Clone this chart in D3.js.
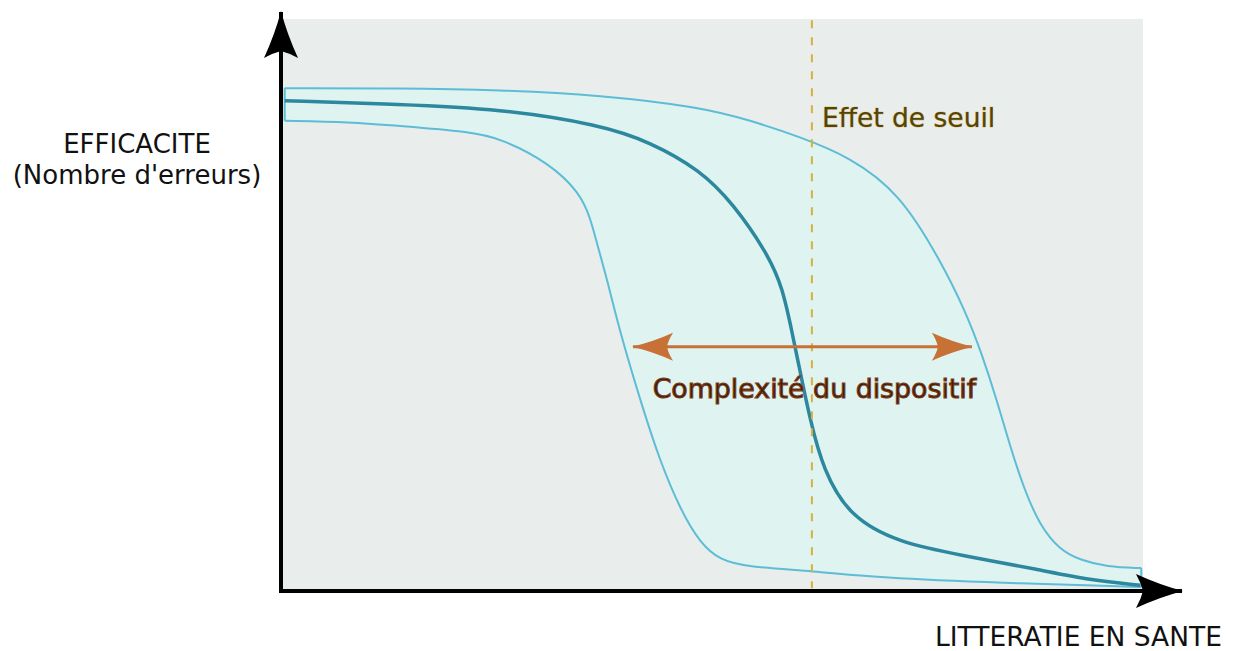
<!DOCTYPE html>
<html>
<head>
<meta charset="utf-8">
<script src="https://cdn.jsdelivr.net/npm/d3@7"></script>
<style>
  body { margin: 0; background: #fff; }
  text { font-family: "DejaVu Sans", sans-serif; }
</style>
</head>
<body>
<div id="chart"></div>
<script>
// literacy (x, 0-100) and error level (y, 0-100)
const upperX = [0.2, 13.6, 25.2, 36.9, 48.5, 54.3, 60.1, 65.9, 71.7, 76.4, 79.3, 81.3, 83.0, 84.5, 86.2, 88.0, 90.3, 92.7, 95.8, 99.8];
const upperY = [87.9, 87.9, 87.6, 86.7, 84.6, 82.3, 79.4, 75.9, 69.6, 57.9, 49.1, 41.3, 33.4, 25.5, 17.7, 11.5, 7.2, 5.4, 4.2, 4.0];

const lowerX = [0.2, 7.8, 13.6, 21.7, 25.2, 31.0, 34.5, 35.7, 36.5, 37.7, 39.2, 41.9, 43.8, 46.2, 48.5, 50.8, 54.0, 61.6, 69.4, 83.4, 99.8];
const lowerY = [82.2, 82.0, 81.3, 80.3, 79.2, 74.8, 69.6, 65.4, 60.8, 54.4, 45.1, 31.6, 22.9, 14.2, 8.4, 5.4, 4.2, 3.5, 2.3, 1.4, 0.7];

const middleX = [0.2, 13.6, 25.2, 36.9, 42.7, 48.5, 52.3, 56.3, 58.1, 59.3, 60.1, 61.3, 62.8, 65.9, 71.7, 78.7, 88.0, 93.8, 99.7];
const middleY = [85.7, 85.1, 84.3, 81.5, 78.5, 73.6, 67.8, 59.1, 53.1, 44.4, 38.6, 29.9, 21.2, 12.9, 8.4, 6.3, 3.7, 1.9, 1.0];

const threshold = 61.5;
const complexity = [40.7, 80.1]; // span of the double arrow
const complexityLevel = 42.7;

const labels = {
  yTitle: ["EFFICACITE", "(Nombre d'erreurs)"],
  xTitle: "LITTERATIE EN SANTE",
  threshold: "Effet de seuil",
  complexity: "Complexité du dispositif"
};

function zip(xs, ys) {
  return xs.map(function(x, i) { return { x: x, y: ys[i] }; });
}

const upper = zip(upperX, upperY);
const lower = zip(lowerX, lowerY);
const middle = zip(middleX, middleY);

const width = 1234;
const height = 651;

const svg = d3.select("#chart")
  .append("svg")
  .attr("width", width)
  .attr("height", height);

const xScale = d3.scaleLinear()
  .domain([0, 100])
  .range([283, 1143]);

const yScale = d3.scaleLinear()
  .domain([0, 100])
  .range([591, 19]);

// b-spline smooths out reading errors in the points
const curve = d3.curveBasis;

// markers for the arrows
const defs = svg.append("defs");

defs.append("marker")
  .attr("id", "axisHead")
  .attr("markerUnits", "userSpaceOnUse")
  .attr("viewBox", "-50 -20 54 40")
  .attr("refX", 0)
  .attr("refY", 0)
  .attr("markerWidth", 54)
  .attr("markerHeight", 40)
  .attr("orient", "auto")
  .append("path")
  .attr("d", "M1,0 Q-22,-6 -46,-17 Q-41,-8 -39,0 Q-41,8 -46,17 Q-22,6 1,0 Z")
  .attr("fill", "#000");

defs.append("marker")
  .attr("id", "orangeHead")
  .attr("markerUnits", "userSpaceOnUse")
  .attr("viewBox", "-44 -16 46 32")
  .attr("refX", 0)
  .attr("refY", 0)
  .attr("markerWidth", 46)
  .attr("markerHeight", 32)
  .attr("orient", "auto-start-reverse")
  .append("path")
  .attr("d", "M1,0 Q-20,-5 -40,-14 Q-35,-6 -34,0 Q-35,6 -40,14 Q-20,5 1,0 Z")
  .attr("fill", "#c87137");

// plot background
svg.append("rect")
  .attr("x", xScale(0) - 2)
  .attr("y", yScale(100))
  .attr("width", xScale(100) - xScale(0) + 2)
  .attr("height", yScale(0) - yScale(100))
  .attr("fill", "#e9edec");

// band between the two light curves
const area = d3.area()
  .x(function(d) { return xScale(d.x); })
  .y0(yScale(0))
  .y1(function(d) { return yScale(d.y); })
  .curve(curve);

svg.append("path")
  .datum(upper)
  .attr("d", area)
  .attr("fill", "#dff3f1");

svg.append("path")
  .datum(lower)
  .attr("d", area)
  .attr("fill", "#e9edec");

const line = d3.line()
  .x(function(d) { return xScale(d.x); })
  .y(function(d) { return yScale(d.y); })
  .curve(curve);

svg.append("path")
  .datum(upper)
  .attr("d", line)
  .attr("fill", "none")
  .attr("stroke", "#5dbcd6")
  .attr("stroke-width", 2);

svg.append("path")
  .datum(lower)
  .attr("d", line)
  .attr("fill", "none")
  .attr("stroke", "#5dbcd6")
  .attr("stroke-width", 2);

// close the band at both ends
[0, 1].forEach(function(i) {
  const u = i === 0 ? upper[0] : upper[upper.length - 1];
  const l = i === 0 ? lower[0] : lower[lower.length - 1];
  svg.append("line")
    .attr("x1", xScale(u.x))
    .attr("y1", yScale(u.y))
    .attr("x2", xScale(l.x))
    .attr("y2", yScale(l.y))
    .attr("stroke", "#5dbcd6")
    .attr("stroke-width", 2);
});

svg.append("path")
  .datum(middle)
  .attr("d", line)
  .attr("fill", "none")
  .attr("stroke", "#2c889e")
  .attr("stroke-width", 3.5);

// threshold
svg.append("line")
  .attr("x1", xScale(threshold))
  .attr("x2", xScale(threshold))
  .attr("y1", yScale(99.8))
  .attr("y2", yScale(0.5))
  .attr("stroke", "#d6b13c")
  .attr("stroke-width", 2)
  .attr("stroke-dasharray", "8,9");

svg.append("text")
  .attr("x", xScale(threshold) + 10)
  .attr("y", 127)
  .attr("font-size", 26.5)
  .attr("fill", "#544408")
  .attr("stroke", "#c9a93a")
  .attr("stroke-width", 0.7)
  .attr("paint-order", "stroke")
  .text(labels.threshold);

// complexity double arrow
svg.append("line")
  .attr("x1", xScale(complexity[0]))
  .attr("x2", xScale(complexity[1]))
  .attr("y1", yScale(complexityLevel))
  .attr("y2", yScale(complexityLevel))
  .attr("stroke", "#c87137")
  .attr("stroke-width", 3)
  .attr("marker-start", "url(#orangeHead)")
  .attr("marker-end", "url(#orangeHead)");

svg.append("text")
  .attr("x", (xScale(complexity[0]) + xScale(complexity[1])) / 2 + 12)
  .attr("y", 398)
  .attr("text-anchor", "middle")
  .attr("font-size", 26.8)
  .attr("fill", "#3d1906")
  .attr("stroke", "#7a3e1a")
  .attr("stroke-width", 1.1)
  .text(labels.complexity);

// axes with arrow heads
svg.append("line")
  .attr("x1", xScale(0) - 2)
  .attr("x2", xScale(0) - 2)
  .attr("y1", yScale(0) + 2)
  .attr("y2", 12)
  .attr("stroke", "#000")
  .attr("stroke-width", 4)
  .attr("marker-end", "url(#axisHead)");

svg.append("line")
  .attr("x1", xScale(0) - 4)
  .attr("x2", 1182)
  .attr("y1", yScale(0))
  .attr("y2", yScale(0))
  .attr("stroke", "#000")
  .attr("stroke-width", 4)
  .attr("marker-end", "url(#axisHead)");

// axis titles
svg.append("text")
  .attr("x", 137)
  .attr("y", 153)
  .attr("text-anchor", "middle")
  .attr("font-size", 26)
  .attr("fill", "#111")
  .text(labels.yTitle[0]);

svg.append("text")
  .attr("x", 137)
  .attr("y", 184)
  .attr("text-anchor", "middle")
  .attr("font-size", 26)
  .attr("fill", "#111")
  .text(labels.yTitle[1]);

svg.append("text")
  .attr("x", 1222)
  .attr("y", 646)
  .attr("text-anchor", "end")
  .attr("font-size", 26.5)
  .attr("fill", "#111")
  .text(labels.xTitle);
</script>
</body>
</html>
